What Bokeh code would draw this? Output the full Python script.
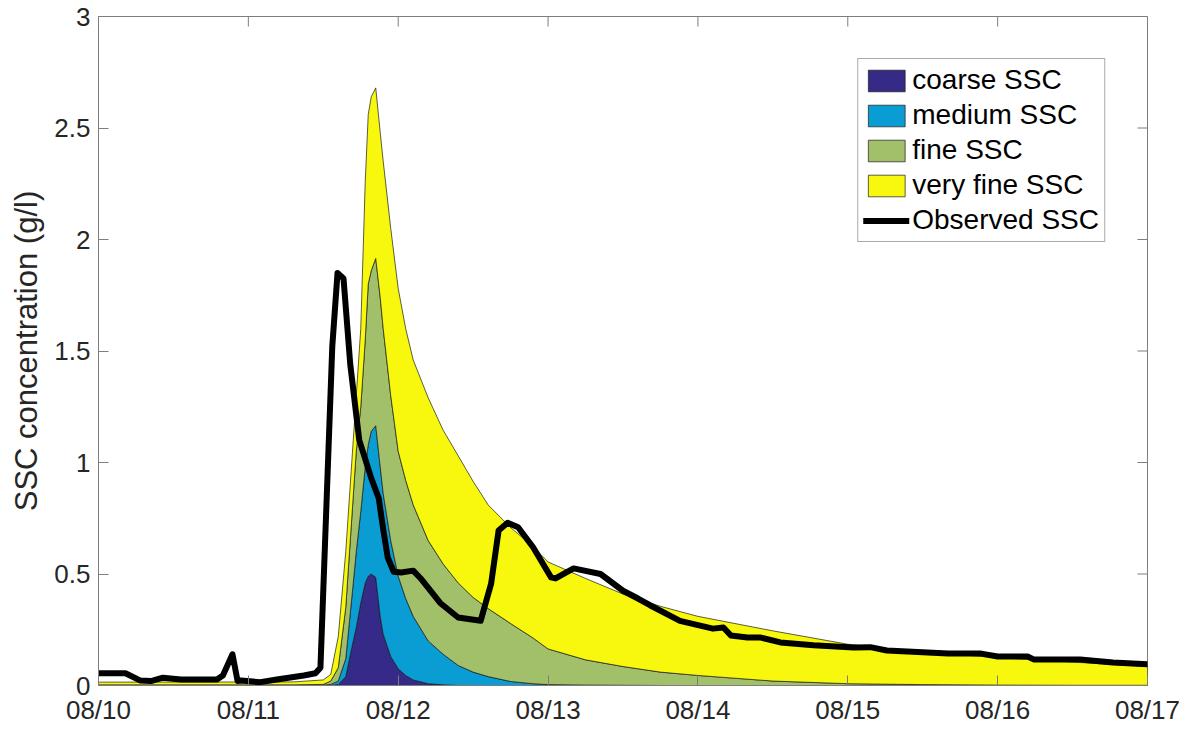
import numpy as np
from bokeh.plotting import figure
from bokeh.models import Range1d, FixedTicker, Legend, LegendItem
from bokeh.embed import file_html
from bokeh.resources import INLINE

# ---------------- data (x = days after 08/10 00:00) ----------------
x_ticks = [0, 1, 2, 3, 4, 5, 6, 7]
x_tick_labels = ["08/10", "08/11", "08/12", "08/13", "08/14", "08/15", "08/16", "08/17"]
y_ticks = [0, 0.5, 1, 1.5, 2, 2.5, 3]
y_tick_labels = ["0", "0.5", "1", "1.5", "2", "2.5", "3"]

t_model = [0, 1.3, 1.5, 1.55, 1.6, 1.65, 1.7, 1.72, 1.75, 1.78, 1.8, 1.82, 1.85, 1.88, 1.9,
           1.95, 2.0, 2.05, 2.1, 2.2, 2.3, 2.4, 2.5, 2.6, 2.75, 2.9, 3.0, 3.25, 3.5, 3.75, 4.0,
           4.5, 5.0, 5.5, 6.0, 6.5, 7.0]
coarse = [0, 0, 0, 0, 0.005, 0.04, 0.2, 0.26, 0.37, 0.46, 0.49, 0.50, 0.485, 0.31, 0.23,
          0.13, 0.075, 0.045, 0.025, 0.008, 0.003, 0, 0, 0, 0, 0, 0, 0, 0, 0, 0,
          0, 0, 0, 0, 0, 0]
medium = [0, 0.001, 0.002, 0.005, 0.015, 0.08, 0.26, 0.34, 0.41, 0.52, 0.59, 0.64, 0.68, 0.67, 0.63,
          0.52, 0.415, 0.345, 0.285, 0.192, 0.137, 0.09, 0.06, 0.04, 0.018, 0.008, 0.004, 0.002, 0.001, 0, 0,
          0, 0, 0, 0, 0, 0]
fine = [0.003, 0.002, 0.003, 0.015, 0.06, 0.23, 0.39, 0.45, 0.47, 0.57, 0.72, 0.72, 0.75, 0.76, 0.74,
        0.65, 0.56, 0.53, 0.50, 0.45, 0.405, 0.37, 0.335, 0.305, 0.26, 0.205, 0.16, 0.113, 0.084, 0.06, 0.045,
        0.02, 0.008, 0.004, 0.002, 0.001, 0.001]
very_fine = [0.012, 0.013, 0.02, 0.03, 0.14, 0.25, 0.25, 0.25, 0.35, 0.71, 0.76, 0.78, 0.765, 0.74, 0.75,
             0.75, 0.73, 0.68, 0.65, 0.64, 0.60, 0.57, 0.52, 0.465, 0.43, 0.41, 0.39, 0.365, 0.325, 0.295, 0.265,
             0.225, 0.177, 0.146, 0.123, 0.104, 0.084]

t_obs = [0, 0.18, 0.28, 0.35, 0.43, 0.55, 0.79, 0.83, 0.894, 0.928, 0.95, 1.08, 1.19, 1.37, 1.448,
         1.481, 1.56, 1.595, 1.635, 1.68, 1.74, 1.82, 1.87, 1.9, 1.93, 1.97, 2.02, 2.1, 2.15, 2.28,
         2.4, 2.55, 2.62, 2.67, 2.73, 2.8, 2.9, 3.02, 3.05, 3.17, 3.35, 3.5, 3.6, 3.68, 3.88,
         4.1, 4.17, 4.22, 4.33, 4.42, 4.55, 4.77, 5.04, 5.15, 5.26, 5.67, 5.89, 6.0, 6.2, 6.24,
         6.55, 6.77, 7.0]
ssc_obs = [0.055, 0.055, 0.022, 0.02, 0.035, 0.027, 0.027, 0.045, 0.14, 0.02, 0.022, 0.015, 0.027, 0.045, 0.055,
           0.08, 1.52, 1.85, 1.825, 1.44, 1.10, 0.93, 0.84, 0.70, 0.574, 0.51, 0.507, 0.515, 0.48, 0.37,
           0.305, 0.29, 0.457, 0.695, 0.73, 0.71, 0.62, 0.485, 0.48, 0.525, 0.50, 0.425, 0.39, 0.36, 0.29,
           0.255, 0.26, 0.224, 0.215, 0.215, 0.193, 0.18, 0.17, 0.172, 0.157, 0.143, 0.143, 0.13, 0.13, 0.117,
           0.117, 0.103, 0.095]

class_names = ["coarse SSC", "medium SSC", "fine SSC", "very fine SSC"]
class_colors = ["#352A87", "#0A9DD3", "#A2BF6A", "#F7F80E"]

FONT = "Liberation Sans"
AX = "#7d7d7d"
TXT = "#262626"
W, H = 1190, 730
ML, MR, MT, MB = 98, 43, 16, 45
TICK_PX = 10

p = figure(width=W, height=H, output_backend="svg", toolbar_location=None,
           x_range=Range1d(0, 7), y_range=Range1d(0, 3),
           min_border_left=ML, min_border_right=MR, min_border_top=MT, min_border_bottom=MB)
p.background_fill_color = "white"
p.border_fill_color = "white"
p.outline_line_color = AX
p.xgrid.visible = False
p.ygrid.visible = False

# stacked areas
t = np.array(t_model)
bottom = np.zeros(len(t))
items = []
for name, col, vals in zip(class_names, class_colors, [coarse, medium, fine, very_fine]):
    top = bottom + np.array(vals)
    xs = list(t) + list(t[::-1])
    ys = list(top) + list(bottom[::-1])
    r = p.patch(xs, ys, fill_color=col, line_color="#1a1a1a", line_width=0.7)
    items.append(LegendItem(label=name, renderers=[r]))
    bottom = top

obs = p.line(t_obs, ssc_obs, line_color="black", line_width=6, line_join="round", line_cap="round")
items.append(LegendItem(label="Observed SSC", renderers=[obs]))

# inward ticks on the top and right sides of the box (MATLAB "box on")
x0, x1 = p.x_range.start, p.x_range.end
y0, y1 = p.y_range.start, p.y_range.end
dy = TICK_PX * (y1 - y0) / (H - MT - MB)
dx = TICK_PX * (x1 - x0) / (W - ML - MR)
p.segment(x0=x_ticks, y0=[y1] * len(x_ticks), x1=x_ticks, y1=[y1 - dy] * len(x_ticks),
          line_color=AX, line_width=1)
p.segment(x0=[x1] * len(y_ticks), y0=y_ticks, x1=[x1 - dx] * len(y_ticks), y1=y_ticks,
          line_color=AX, line_width=1)

# axes
for ax in (p.xaxis[0], p.yaxis[0]):
    ax.axis_line_color = AX
    ax.major_tick_line_color = AX
    ax.major_tick_in = TICK_PX
    ax.major_tick_out = 0
    ax.minor_tick_line_color = None
    ax.major_label_text_font = FONT
    ax.major_label_text_font_size = "26px"
    ax.major_label_text_color = TXT

p.xaxis[0].ticker = FixedTicker(ticks=x_ticks)
p.xaxis[0].major_label_overrides = {k: v for k, v in zip(x_ticks, x_tick_labels)}
p.xaxis[0].major_label_standoff = 9
p.yaxis[0].ticker = FixedTicker(ticks=y_ticks)
p.yaxis[0].major_label_overrides = {k: v for k, v in zip(y_ticks, y_tick_labels)}
p.yaxis[0].major_label_standoff = 8
p.yaxis[0].axis_label = "SSC concentration (g/l)"
p.yaxis[0].axis_label_text_font = FONT
p.yaxis[0].axis_label_text_font_size = "31px"
p.yaxis[0].axis_label_text_font_style = "normal"
p.yaxis[0].axis_label_text_color = TXT
p.yaxis[0].axis_label_standoff = 7

legend = Legend(items=items, location="top_right", margin=42,
                label_text_font=FONT, label_text_font_size="28px", label_text_color="black",
                glyph_width=46, glyph_height=27, label_height=27, label_standoff=3,
                spacing=3, padding=5, border_line_color="#555555", border_line_width=1,
                background_fill_color="white", background_fill_alpha=1.0)
p.add_layout(legend)

open("out.html", "w").write(file_html(p, INLINE))
